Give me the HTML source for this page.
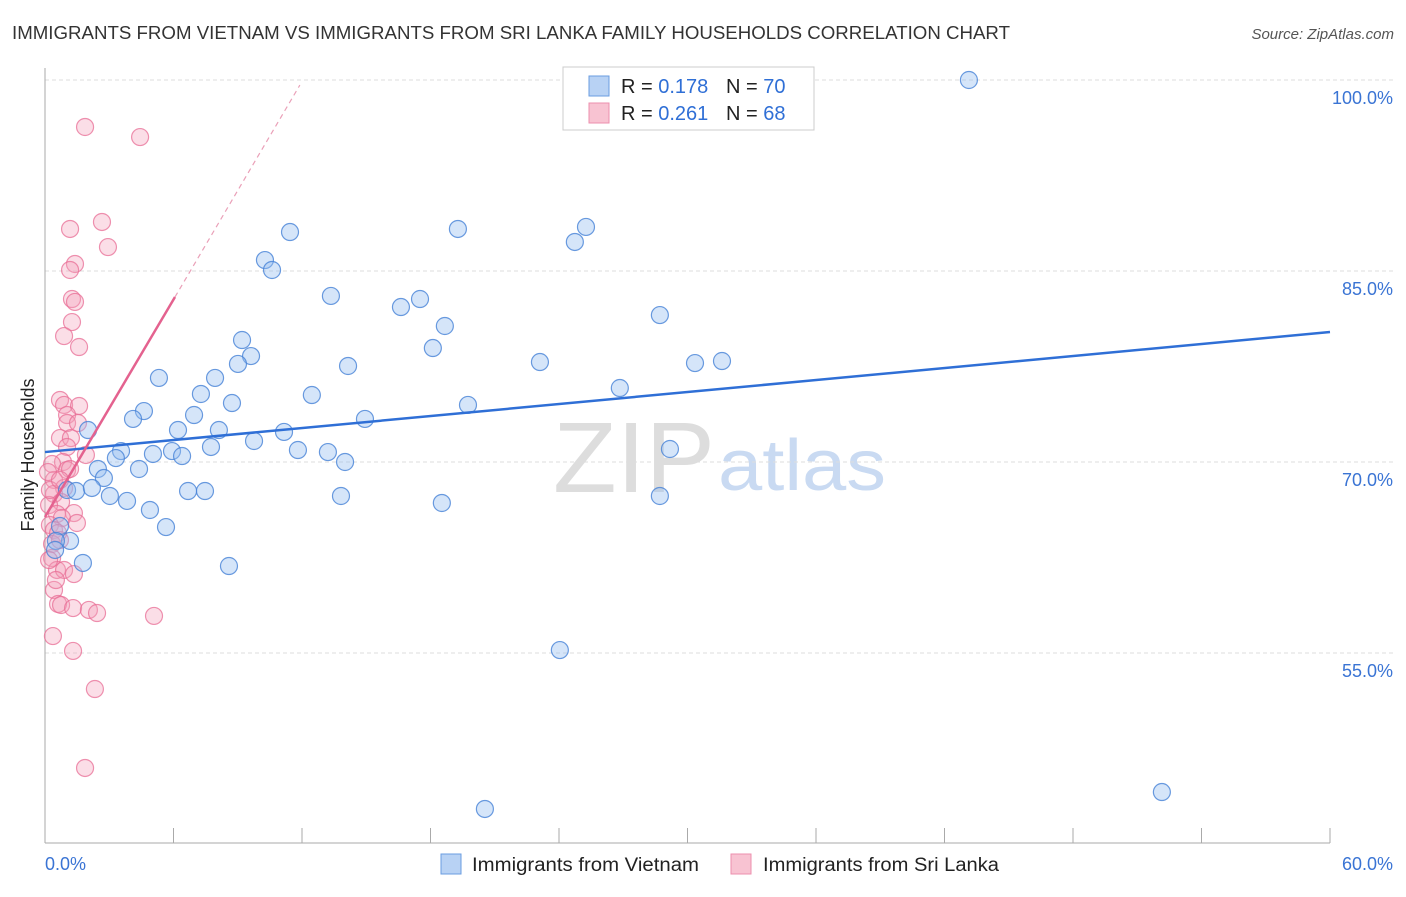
<!DOCTYPE html>
<html><head><meta charset="utf-8"><style>
body{margin:0;background:#fff;font-family:"Liberation Sans",sans-serif;}
svg text{font-family:"Liberation Sans",sans-serif;}
</style></head><body>
<svg id="chart" width="1406" height="892">
<text x="12" y="39" font-size="18" fill="#333" textLength="998" lengthAdjust="spacingAndGlyphs">IMMIGRANTS FROM VIETNAM VS IMMIGRANTS FROM SRI LANKA FAMILY HOUSEHOLDS CORRELATION CHART</text>
<text x="1394" y="39" font-size="15" fill="#555" font-style="italic" text-anchor="end">Source: ZipAtlas.com</text>
<g>
<text x="553" y="492" font-size="100" fill="#ddd" font-family="Liberation Serif" textLength="162" lengthAdjust="spacingAndGlyphs">ZIP</text>
<text x="718" y="490" font-size="72" fill="#c9daf2" textLength="168" lengthAdjust="spacingAndGlyphs">atlas</text>
</g>
<g id="grid"></g>
<g id="axes"></g>
<g id="pts"></g>
<g id="lines"></g>
<text transform="translate(34,455) rotate(-90)" font-size="18" fill="#222" text-anchor="middle">Family Households</text>
<g>
<rect x="563" y="67" width="251" height="63" fill="#fff" stroke="#ccc"/>
<rect x="589" y="76" width="20" height="20" fill="#b8d2f4" stroke="#6a9ce0"/>
<rect x="589" y="103" width="20" height="20" fill="#f8c3d2" stroke="#ec8fae"/>
<text x="621" y="93" font-size="20" fill="#222">R = <tspan fill="#2f6fd6">0.178</tspan></text>
<text x="726" y="93" font-size="20" fill="#222">N = <tspan fill="#2f6fd6">70</tspan></text>
<text x="621" y="120" font-size="20" fill="#222">R = <tspan fill="#2f6fd6">0.261</tspan></text>
<text x="726" y="120" font-size="20" fill="#222">N = <tspan fill="#2f6fd6">68</tspan></text>
</g>
<g>
<rect x="441" y="854" width="20" height="20" fill="#b8d2f4" stroke="#6a9ce0"/>
<text x="472" y="871" font-size="19" fill="#222" textLength="227" lengthAdjust="spacingAndGlyphs">Immigrants from Vietnam</text>
<rect x="731" y="854" width="20" height="20" fill="#f8c3d2" stroke="#ec8fae"/>
<text x="763" y="871" font-size="19" fill="#222" textLength="236" lengthAdjust="spacingAndGlyphs">Immigrants from Sri Lanka</text>
</g>
</svg>
<script>
const yTicks=[55,70,85,100];
const yTickLabels=["55.0%","70.0%","85.0%","100.0%"];
const xTicks=[0,6,12,18,24,30,36,42,48,54,60];
const xEndLabels=["0.0%","60.0%"];
const vietX=[43.14,52.15,20.54,24.04,11.44,19.28,25.26,24.74,10.27,10.60,13.35,17.51,16.62,28.71,18.67,18.11,9.20,9.62,9.01,14.15,23.11,30.35,31.61,5.32,7.94,26.84,12.46,7.28,8.73,19.75,4.62,6.96,4.11,14.94,2.01,6.21,8.12,9.76,11.16,3.55,5.04,5.93,6.40,7.75,11.81,13.21,29.18,14.01,3.31,4.39,2.47,2.75,1.03,1.45,2.19,3.03,3.83,6.68,7.47,13.82,18.53,28.71,4.90,5.65,0.70,1.17,0.51,1.77,8.59,0.47];
const vietY=[100,44.08,42.75,55.23,88.06,88.30,88.46,87.28,85.86,85.08,83.04,82.80,82.17,81.54,80.68,78.95,79.58,78.32,77.70,77.54,77.85,77.77,77.93,76.60,76.60,75.81,75.26,75.34,74.63,74.48,74.00,73.69,73.38,73.38,72.51,72.51,72.51,71.65,72.36,70.86,70.63,70.86,70.47,71.18,70.94,70.78,71.02,70.00,70.31,69.45,69.45,68.74,67.80,67.72,67.96,67.33,66.94,67.72,67.72,67.33,66.78,67.33,66.23,64.89,64.97,63.80,63.80,62.07,61.83,63.09];
const lankaX=[1.87,4.44,1.17,2.66,2.94,1.40,1.17,1.26,1.40,1.26,0.89,1.59,0.70,0.89,1.59,1.03,1.03,1.54,0.70,1.21,1.03,1.91,0.84,0.33,1.03,1.17,0.42,0.89,0.42,0.75,0.19,1.35,0.56,0.79,1.49,0.23,0.42,0.61,0.33,0.70,0.33,0.56,0.89,1.35,0.42,0.61,0.75,1.31,2.05,2.43,5.09,0.37,1.31,2.33,1.87,0.19,0.51,0.14,0.23,0.70];
const lankaY=[96.31,95.52,88.30,88.85,86.88,85.55,85.08,82.80,82.57,80.99,79.89,79.03,74.87,74.48,74.40,73.69,73.06,73.06,71.88,71.88,71.18,70.55,70.00,69.84,69.37,69.45,68.59,67.96,67.49,66.86,66.62,65.99,65.92,65.60,65.21,65.05,64.66,64.42,63.56,63.87,62.46,61.52,61.52,61.20,59.95,58.85,58.77,58.53,58.38,58.14,57.91,56.33,55.16,52.17,45.97,62.30,60.73,69.21,67.80,68.59];
const vietTrend=[70.78,80.21];
const lankaTrend=[65.68,82.96,99.6];
const lankaTrendX=[0,6.07,11.9];
const NS="http://www.w3.org/2000/svg";
const X=v=>45+v*(1285/60);
const Y=v=>80+(100-v)*12.733;
function mk(tag,attrs,parent){const e=document.createElementNS(NS,tag);for(const k in attrs)e.setAttribute(k,attrs[k]);document.getElementById(parent).appendChild(e);return e;}
yTicks.forEach((t,i)=>{
 const l=mk('line',{x1:45,x2:1393,y1:Y(t),y2:Y(t),stroke:'#ddd','stroke-dasharray':'4,3'},'grid');
 
 
 const tx=mk('text',{x:1393,y:Y(t)+24,'font-size':18,fill:'#3a74d4','text-anchor':'end'},'grid');
 tx.textContent=yTickLabels[i];
 
 
});
const ax=mk('line',{x1:45,x2:45,y1:68,y2:843,stroke:'#aaa'},'axes');


const bx=mk('line',{x1:45,x2:1330,y1:843,y2:843,stroke:'#aaa'},'axes');


xTicks.forEach(t=>{
 const l=mk('line',{x1:X(t),x2:X(t),y1:828,y2:843,stroke:'#aaa'},'axes');
 
 
});
[[0,'start',45],[60,'end',1393]].forEach((a,i)=>{
 const tx=mk('text',{x:a[2],y:870,'font-size':18,fill:'#3a74d4','text-anchor':a[1]},'axes');
 tx.textContent=xEndLabels[i];
 
 
});
lankaX.forEach((v,i)=>{
 const c=mk('circle',{cx:X(v),cy:Y(lankaY[i]),r:8.5,fill:'rgba(244,160,186,0.35)',stroke:'rgba(232,110,150,0.75)','stroke-width':1.2},'pts');
 
 
});
vietX.forEach((v,i)=>{
 const c=mk('circle',{cx:X(v),cy:Y(vietY[i]),r:8.5,fill:'rgba(150,190,240,0.4)',stroke:'rgba(70,130,215,0.8)','stroke-width':1.2},'pts');
 
 
});
const bl=mk('line',{x1:X(0),y1:Y(vietTrend[0]),x2:X(60),y2:Y(vietTrend[1]),stroke:'#2f6fd6','stroke-width':2.5},'lines');


const pl=mk('line',{x1:X(lankaTrendX[0]),y1:Y(lankaTrend[0]),x2:X(lankaTrendX[1]),y2:Y(lankaTrend[1]),stroke:'#e4628f','stroke-width':2.5},'lines');


const pd=mk('line',{x1:X(lankaTrendX[1]),y1:Y(lankaTrend[1]),x2:X(lankaTrendX[2]),y2:Y(lankaTrend[2]),stroke:'#eaa0b8','stroke-width':1.2,'stroke-dasharray':'5,4'},'lines');


</script>
</body></html>
